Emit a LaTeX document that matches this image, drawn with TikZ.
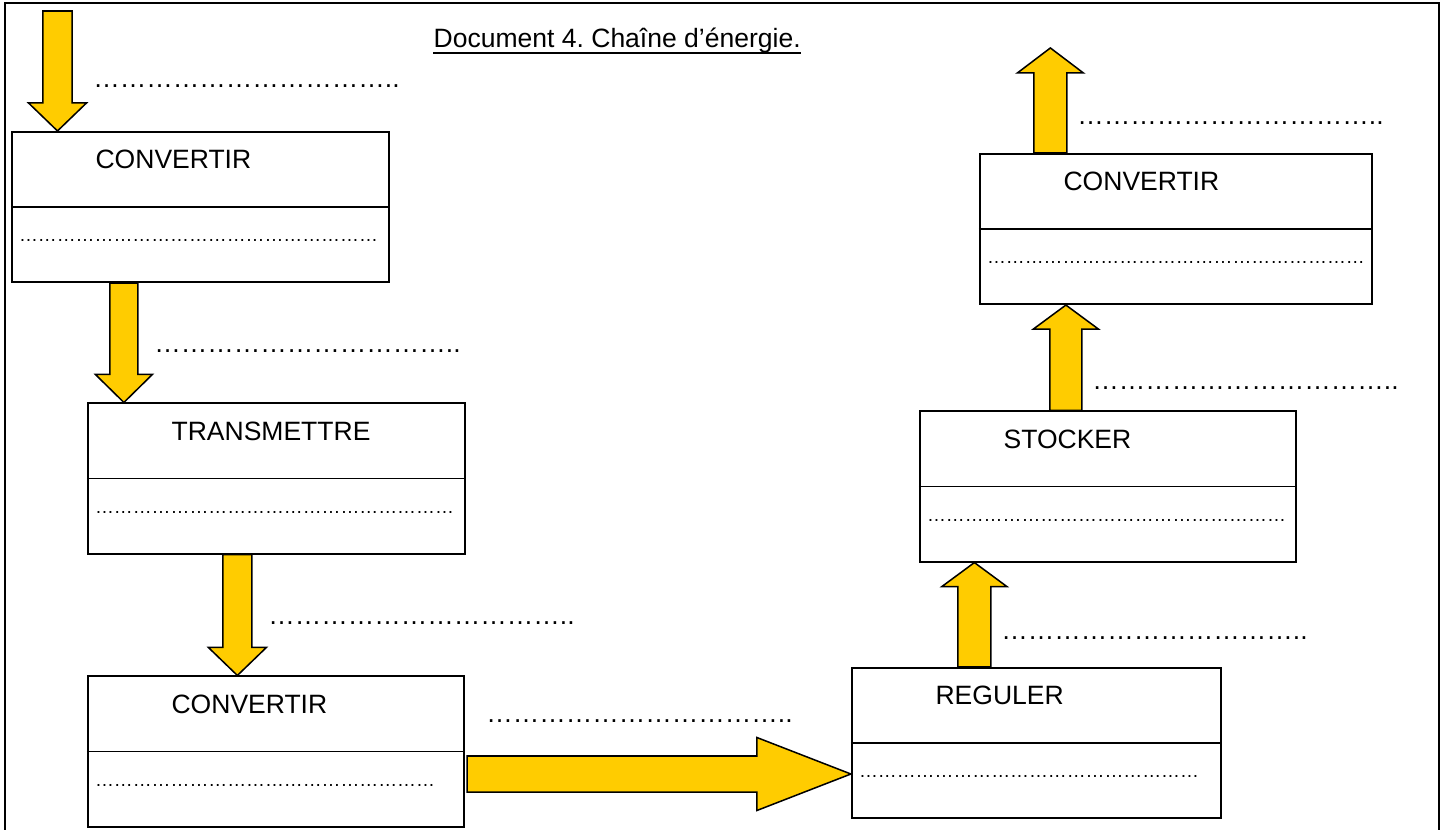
\documentclass[tikz,border=0pt]{standalone}
\usepackage{fontspec}
\setmainfont{Liberation Sans}
\usetikzlibrary{calc}
\definecolor{jaune}{RGB}{255,204,0}
\newcommand{\pointilles}{\foreach \j in {1,...,11}{…}..}
\frenchspacing

\begin{document}
\begin{tikzpicture}[x=0.01cm,y=-0.01cm,
    fonction/.style={draw,line width=0.57pt,minimum height=1.5cm,inner sep=0pt},
    intitule/.style={anchor=base west,inner sep=0pt,font=\fontsize{7.54}{9}\selectfont},
    pointille/.style={anchor=base west,inner sep=0pt,font=\fontsize{5.37}{6}\selectfont},
    fleche/.style={fill=jaune,draw=black,line width=0.43pt}]

    \useasboundingbox (0,0) rectangle (1447,830);

    %==================== Cadre et titre ====================
    \draw[line width=0.57pt] (5,830) -- (5,3) -- (1439,3) -- (1439,830);
    \node[intitule] (titre) at (433,47) {Document 4. Chaîne d'énergie.};
    \draw[line width=0.57pt] ($(titre.base west)+(0,6)$) -- ($(titre.base east)+(0,6)$);

    %==================== Fonctions ====================
    \foreach \n/\x/\y/\w/\txt/\k in {c1/200.5/207/3.77/CONVERTIR/19,
        tr/276.5/478.5/3.77/TRANSMETTRE/19, c2/276/751.5/3.76/CONVERTIR/18,
        rg/1036.5/743/3.69/REGULER/18, st/1108/486.5/3.76/STOCKER/19,
        c3/1176/229/3.92/CONVERTIR/20} {
      \node[fonction,minimum width=\w cm] (\n) at (\x,\y) {};
      \draw[line width=0.4pt] (\n.west) -- (\n.east);
      \node[intitule] (\n-nom) at ($(\n.north west)+(84,38)$) {\txt};
      \node[pointille] (\n-pts) at ($(\n.north west)+(7.5,111)$)
        {\foreach \j in {1,...,\k}{…}};
    }

    %==================== Flèches d'énergie ====================
    % Points de départ
    \coordinate (in) at (57.5,11);
    \coordinate (a2) at ($(c1.south west)+(113,0)$);
    \coordinate (a3) at ($(tr.south west)+(150.5,0)$);
    \coordinate (a4) at ($(c2.east)+(2,22.5)$);
    \coordinate (a5) at ($(rg.north west)+(123.5,0)$);
    \coordinate (a6) at ($(st.north west)+(147,0)$);
    \coordinate (a7) at ($(c3.north west)+(71.5,0)$);

    % Pointes
    \coordinate (b1) at (in |- c1.north);
    \coordinate (b2) at (a2 |- tr.north);
    \coordinate (b3) at (a3 |- c2.north);
    \coordinate (b4) at (a4 -| rg.west);
    \coordinate (b5) at (a5 |- st.south);
    \coordinate (b6) at (a6 |- c3.south);
    \coordinate (out) at ($(a7)+(0,-105)$);

    \foreach \t/\p/\w/\W/\L in {in/b1/0.145cm/0.29cm/0.28cm,
        a2/b2/0.14cm/0.285cm/0.28cm, a3/b3/0.145cm/0.29cm/0.28cm,
        a4/b4/0.18cm/0.365cm/0.94cm, a5/b5/0.165cm/0.325cm/0.24cm,
        a6/b6/0.16cm/0.325cm/0.24cm, a7/out/0.165cm/0.33cm/0.25cm} {
      \coordinate (base) at ($(\p)!\L!(\t)$);
      \filldraw[fleche] ($(\t)!\w!90:(\p)$) -- ($(base)!\w!90:(\p)$)
        -- ($(base)!\W!90:(\p)$) -- (\p) -- ($(base)!\W!-90:(\p)$)
        -- ($(base)!\w!-90:(\p)$) -- ($(\t)!\w!-90:(\p)$) -- cycle;
    }

    % Formes d'energie a completer
    \foreach \n/\x/\y in {l1/97/86, l2/158/351, l3/272/623, l4/490/721,
        l5/1005/638, l6/1096/388, l7/1081/123} {
      \node[intitule] (\n) at (\x-4.4,\y+1.4) {\pointilles};
    }

\end{tikzpicture}
\end{document}
